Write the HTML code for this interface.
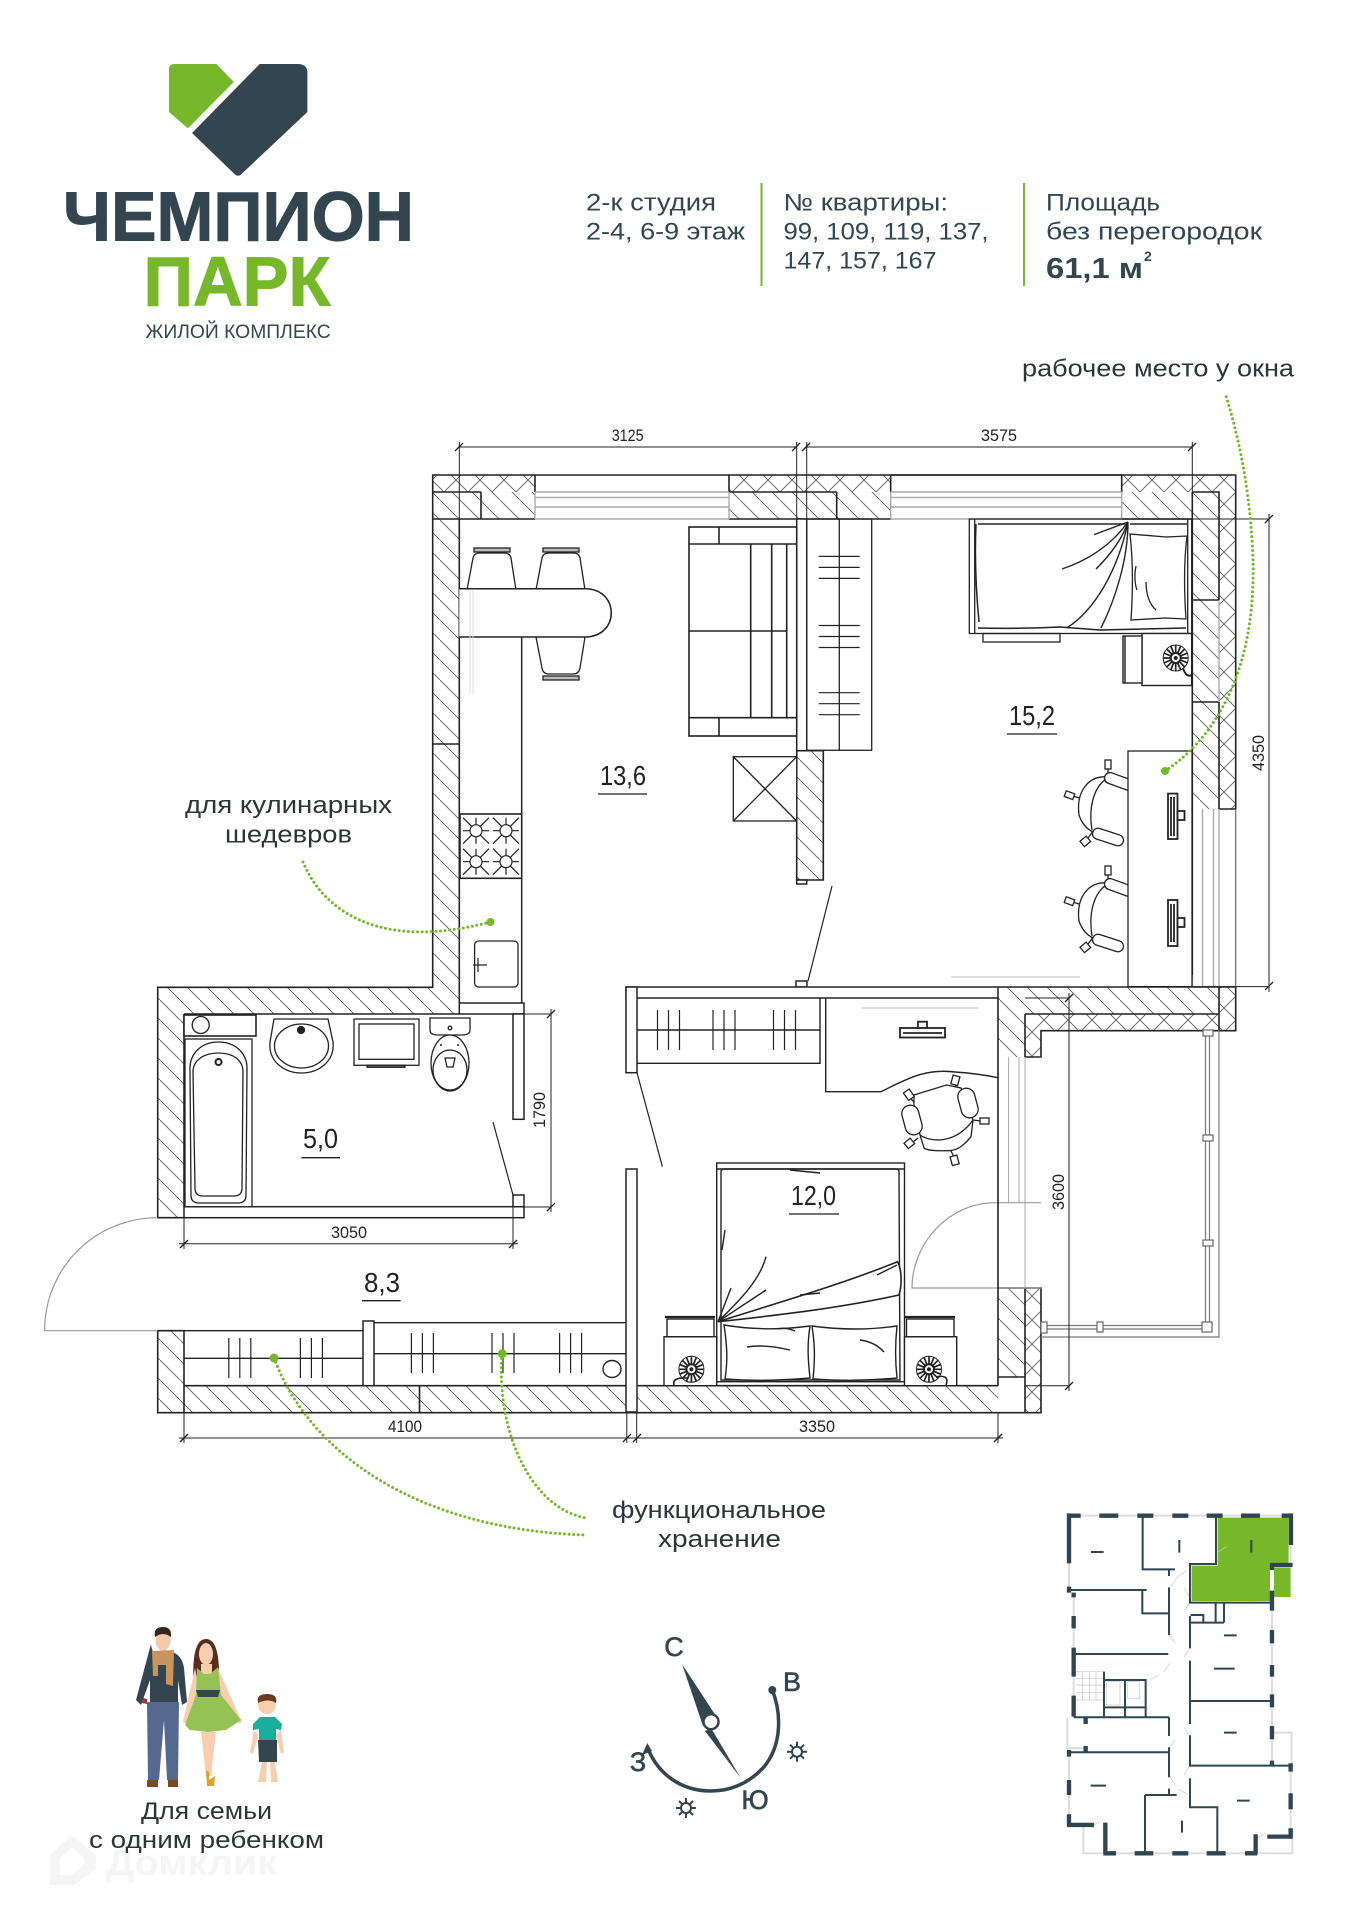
<!DOCTYPE html>
<html lang="ru"><head><meta charset="utf-8"><title>Планировка</title>
<style>html,body{margin:0;padding:0;background:#fff}svg{display:block}text{font-family:"Liberation Sans",sans-serif}</style></head>
<body>
<svg width="1357" height="1920" viewBox="0 0 1357 1920" xmlns="http://www.w3.org/2000/svg">
<defs>
<pattern id="h" width="20" height="20" patternUnits="userSpaceOnUse"><path d="M-2,-2L22,22" stroke="#555" stroke-width=".8" fill="none"/></pattern>
<pattern id="x" width="24" height="24" patternUnits="userSpaceOnUse"><path d="M0,0L24,24M24,0L0,24" stroke="#555" stroke-width=".8" fill="none"/></pattern>
<g id="chair" fill="#fff" stroke="#222" stroke-width="1.3">
<path d="M1108,767V778M1072,796L1083,799M1088,838L1094,830" fill="none"/>
<rect x="1105" y="760" width="6" height="9"/><rect x="1065" y="792" width="9" height="6" transform="rotate(20 1069 795)"/><rect x="1081" y="838" width="8" height="7" transform="rotate(-40 1085 841)"/>
<path d="M1108,777C1088,775 1076,792 1079,815C1082,824 1087,829 1093,832"/>
<path d="M1108,778C1095,785 1088,805 1092,830" fill="none"/>
<rect x="1104" y="775.5" width="34" height="11" rx="5.5" transform="rotate(20 1118 781)"/>
<rect x="1092" y="831.5" width="32" height="11" rx="5.5" transform="rotate(18 1108 837)"/>
</g>
<g id="burn" fill="none" stroke="#222" stroke-width="1.2"><circle r="6"/><path d="M-13,-13L-4,-4M13,-13L4,-4M-13,13L-4,4M13,13L4,4M0,-13V-6M0,13V6M-13,0H-6M13,0H6"/></g>
<g id="lamp" fill="none" stroke="#222"><ellipse rx="12.5" ry="13" stroke-width="1"/><path d="M0,-13V13M-12,0H12M-9,-9L9,9M9,-9L-9,9M-5,-12L5,12M5,-12L-5,12M-12,-5L12,5M12,-5L-12,5" stroke-width="1.7"/><circle r="5" fill="#fff" stroke-width="2"/><circle r="1.5" fill="#222"/></g>
<g id="tick" stroke="#222" stroke-width="1.2"><path d="M0,0V40M11,0V40M22,0V40"/></g>
<g id="tick2" stroke="#222" stroke-width="1.2"><path d="M0,0H41M0,11H41M0,22H41"/></g>
</defs>

<!-- watermark -->
<g fill="#f5f5f5">
<path d="M72,1835L96,1855V1868L75,1885H50V1855Z M60,1858V1875H72L84,1864V1858L72,1848Z" fill-rule="evenodd"/>
<text x="106" y="1875" font-size="36" font-weight="700" textLength="171" lengthAdjust="spacingAndGlyphs">Домклик</text>
</g>

<!-- logo -->
<path d="M174,64H216.5L233.8,82L187.9,128.3L169,112V69Q169,64 174,64Z" fill="#76b82a"/>
<path d="M259.7,64H298Q307.4,64 307.4,73V112L241,174.5Q238,177 235,174.5L192,133Z" fill="#33464f"/>
<text x="63" y="240.7" font-size="70" font-weight="700" fill="#33464f" stroke="#33464f" stroke-width="1" textLength="351" lengthAdjust="spacingAndGlyphs">ЧЕМПИОН</text>
<text x="143.5" y="305.7" font-size="70" font-weight="700" fill="#76b82a" stroke="#76b82a" stroke-width="1" textLength="187" lengthAdjust="spacingAndGlyphs">ПАРК</text>
<text x="145.5" y="338" font-size="19" fill="#33464f" textLength="185.2" lengthAdjust="spacingAndGlyphs">ЖИЛОЙ КОМПЛЕКС</text>

<!-- header info -->
<g font-size="24" fill="#33464f">
<text x="586" y="210.5" textLength="130" lengthAdjust="spacingAndGlyphs">2-к студия</text>
<text x="586" y="239.5" textLength="159" lengthAdjust="spacingAndGlyphs">2-4, 6-9 этаж</text>
<text x="783.5" y="210.5" textLength="164.5" lengthAdjust="spacingAndGlyphs">№ квартиры:</text>
<text x="783.5" y="239.5" textLength="205" lengthAdjust="spacingAndGlyphs">99, 109, 119, 137,</text>
<text x="783.5" y="268.5" textLength="153" lengthAdjust="spacingAndGlyphs">147, 157, 167</text>
<text x="1046" y="210.5" textLength="114" lengthAdjust="spacingAndGlyphs">Площадь</text>
<text x="1046" y="239.5" textLength="216" lengthAdjust="spacingAndGlyphs">без перегородок</text>
<text x="1046" y="278" font-size="29" font-weight="700" textLength="97" lengthAdjust="spacingAndGlyphs">61,1 м</text>
<text x="1144" y="261" font-size="14" font-weight="700">2</text>
</g>
<path d="M761.5,183V286M1024,183V286" stroke="#76b82a" stroke-width="2"/>

<!-- annotations -->
<g font-size="24" fill="#2f3338">
<text x="1022" y="376.5" textLength="272" lengthAdjust="spacingAndGlyphs">рабочее место у окна</text>
<text x="185" y="813" textLength="207" lengthAdjust="spacingAndGlyphs">для кулинарных</text>
<text x="225" y="842.5" textLength="127" lengthAdjust="spacingAndGlyphs">шедевров</text>
<text x="612" y="1518" textLength="214" lengthAdjust="spacingAndGlyphs">функциональное</text>
<text x="658" y="1547" textLength="123" lengthAdjust="spacingAndGlyphs">хранение</text>
<text x="141" y="1819" textLength="131" lengthAdjust="spacingAndGlyphs">Для семьи</text>
<text x="89" y="1848" textLength="235" lengthAdjust="spacingAndGlyphs">с одним ребенком</text>
</g>

<!-- walls: hatch fills -->
<rect x="432.7" y="475" width="102.3" height="17" fill="url(#x)"/>
<rect x="729" y="475" width="161.7" height="17" fill="url(#x)"/>
<rect x="1121.7" y="475" width="114" height="17" fill="url(#x)"/>
<rect x="432.7" y="492" width="102.3" height="27" fill="url(#h)"/>
<rect x="729" y="492" width="161.7" height="27" fill="url(#h)"/>
<rect x="1121.7" y="492" width="70.6" height="27" fill="url(#h)"/>
<rect x="1219" y="492" width="16.7" height="317" fill="url(#x)"/>
<rect x="1192.3" y="492" width="26.7" height="317" fill="url(#h)"/>
<path d="M157.7,987.3H432.7V519H459.3V1014H184V1217.7H157.7Z" fill="url(#h)"/>
<rect x="796.7" y="750.7" width="26.6" height="129.3" fill="url(#h)"/>
<path d="M998,987H1219V1014H1025V1057H998Z" fill="url(#h)"/>
<path d="M1025,1014H1219V987H1235.7V1030.7H1041V1057H1025Z" fill="url(#x)"/>
<rect x="998" y="1288" width="27" height="124.7" fill="url(#h)"/>
<rect x="1025" y="1288" width="16" height="124.7" fill="url(#x)"/>
<path d="M157.7,1330.7H184V1385.7H998V1412.7H157.7Z" fill="url(#h)"/>
<rect x="998" y="1377" width="27" height="35.7" fill="#fff"/>

<!-- wall outlines -->
<g stroke="#222" stroke-width="1.6" fill="none">
<path d="M535,475H432.7V519H535M535,475V492M729,475H1235.7V809M729,475V492M890.7,475V492M1121.7,475V492M729,519H890.7M1121.7,519H1192.3"/>
<path d="M481,492V519M836.7,492V519M432.7,492H481M729,492H836.7M1192.3,492H1219V600M1219,702V809M1192.3,600H1219M1192.3,702H1219M1192.3,492V980M1219,809H1235.7"/>
<path d="M459.3,519V1003M432.7,519V987.3H157.7V1217.7H184M432.7,744H459.3M184,1014V1206.7M184,1014H459.3"/>
<path d="M796.7,750.7H823.3V880H796.7V750.7"/>
<path d="M998,987H1235.7V1030.7H1041V1057H1025M1025,1014H1219M1219,987V1030.7M1025,1014V1057"/>
<path d="M998,1288H1041V1412.7H157.7V1330.7H184V1412.7M184,1385.7H998M419.5,1385.7V1412.7M998,1377H1025V1412.7M1025,1288V1377"/>
</g>
<!-- windows -->
<g stroke="#aaa" stroke-width="1.4" fill="none">
<path d="M535,492H729M535,497.5H729M535,507H729M535,519H729M535,492V519M729,492V519"/>
<path d="M890.7,492H1121.7M890.7,497.5H1121.7M890.7,507H1121.7M890.7,519H1121.7M890.7,492V519M1121.7,492V519"/>
<path d="M1219,600V702M1202.5,809V987M1213.5,809V987M1219,809V987"/>
<path d="M1008.6,1057V1203M1019,1057V1203M1025,1057V1288M998,1057V1288" stroke-width="1"/>
</g>
<path d="M535,475H729M890.7,475H1121.7" stroke="#222" stroke-width="1.5"/>
<path d="M1235.7,809V987" stroke="#666" stroke-width="1.2"/>
<path d="M1192.3,975V987" stroke="#aaa" stroke-width="1.5"/>
<!-- balcony -->
<g fill="none" stroke="#777" stroke-width="1.2">
<path d="M1219,1030V1337H1041"/>
<path d="M1205.5,1030V1327M1209.5,1030V1327M1044,1325.5H1207M1044,1329H1207"/>
</g>
<g fill="#fff" stroke="#666" stroke-width="1.2">
<rect x="1203" y="1030" width="10" height="6"/><rect x="1203" y="1135" width="10" height="6"/><rect x="1203" y="1240" width="10" height="6"/><rect x="1202" y="1322" width="10" height="10"/><rect x="1041" y="1322" width="6" height="11"/><rect x="1097" y="1322" width="6" height="10"/>
</g>
<path d="M1041,1202.7H995.5C948,1202.7 912,1244 912,1288H1041" fill="none" stroke="#999" stroke-width="1.2"/>
<!-- partitions -->
<g fill="#fff" stroke="#222" stroke-width="1.5">
<rect x="796.7" y="519" width="10" height="231.7"/>
<rect x="796.7" y="880" width="10" height="4"/>
<rect x="796" y="981" width="11" height="6"/>
<rect x="626" y="987" width="372" height="11"/>
<rect x="626" y="987" width="11" height="85.7"/>
<rect x="626" y="1169" width="11" height="243"/>
<rect x="459.3" y="1003" width="64.7" height="11"/>
<rect x="513" y="1014" width="11" height="105.3"/>
<rect x="513" y="1195" width="11" height="12"/>
<rect x="184" y="1206.7" width="340" height="11"/>
<rect x="363" y="1321" width="11" height="64.7"/>
</g>
<path d="M998,998V1385.7" stroke="#222" stroke-width="1.6"/>
<path d="M832,886L808,981M637,1072.7L662.4,1166.7M493,1122L513,1195" stroke="#222" stroke-width="1.2"/>
<path d="M157.7,1217.7C95,1217.7 44.6,1268 44.6,1330.7H157.7" fill="none" stroke="#999" stroke-width="1.2"/>

<!-- kitchen -->
<g fill="#fff" stroke="#222" stroke-width="1.3">
<rect x="474" y="548" width="36" height="4" fill="#bbb"/><rect x="543" y="548" width="36" height="4" fill="#bbb"/>
<rect x="543" y="676" width="36" height="4" fill="#bbb"/>
<path d="M467,590L473,558Q474,553 480,553H504Q510,553 511,558L516,590"/>
<path d="M536,590L542,558Q543,553 549,553H573Q579,553 580,558L585,590"/>
<path d="M536,637L542,668Q543,674 549,674H573Q579,674 580,668L585,637"/>
<path d="M459.3,588.7H585C620,588.7 620,637 585,637H459.3" stroke-width="1.5"/>
</g>
<path d="M521.7,637V1003" stroke="#222" stroke-width="1.5"/>
<path d="M470,590V694M473,590V694" stroke="#ddd" stroke-width="1"/>
<rect x="460" y="814" width="61.7" height="64.3" fill="#fff" stroke="#222" stroke-width="1.6"/>
<use href="#burn" x="476" y="830.7"/><use href="#burn" x="506" y="830.7"/><use href="#burn" x="476" y="861.7"/><use href="#burn" x="506" y="861.7"/>
<rect x="474.6" y="941" width="43.4" height="46" rx="4" fill="#fff" stroke="#222" stroke-width="1.3"/>
<path d="M478,958V972M473,965H487" stroke="#222" stroke-width="1.2"/>

<!-- sofa -->
<g fill="#fff" stroke="#222" stroke-width="1.6">
<rect x="689" y="527" width="107.7" height="209"/>
<path d="M689,544H796.7M689,717.7H796.7M719,527V544M719,717.7V736M750.7,544V717.7M771.7,544V717.7M786.7,544V717.7M689,631H786.7" fill="none"/>
</g>
<rect x="733.3" y="756.7" width="63.4" height="64.3" fill="#fff" stroke="#222" stroke-width="1.3"/>
<path d="M733.3,756.7L796.7,821M796.7,756.7L733.3,821" stroke="#222" stroke-width="1.3"/>

<!-- wardrobe -->
<g fill="none" stroke="#222" stroke-width="1.3">
<rect x="806.7" y="519" width="65" height="231.3"/><path d="M839.3,519V750.3"/>
</g>
<use href="#tick2" x="818.7" y="556.4"/><use href="#tick2" x="818.7" y="625.5"/><use href="#tick2" x="818.7" y="692.7"/>

<!-- bed 15,2 -->
<g fill="none" stroke="#222" stroke-width="1.3">
<rect x="969.3" y="519" width="222.4" height="114.5"/>
<path d="M974.7,519V633.5M1187.7,519V633.5"/>
<rect x="983" y="633.5" width="77" height="8.5"/>
<path d="M978,524H1125M1130,524H1187M978,628Q1020,629 1060,627L1100,630L1186,628M976,524Q974,570 979,622" stroke-width="1.5"/>
<path d="M1128,522L1094,534.6M1128,522C1115,540 1095,558 1062,569M1128,522C1122,540 1110,555 1096,569M1128,522C1118,570 1095,610 1066.7,628M1128,522C1128,560 1115,600 1101,628" stroke-width="1.4"/>
<path d="M1130,534L1166,537L1187,536C1184,560 1184,590 1186,619L1165,618L1131,620C1133,590 1133,560 1130,534Z M1136,566C1134,575 1135,585 1137,590M1146,582C1146,595 1150,605 1156,610" stroke-width="1.3"/>
</g>
<g fill="#fff" stroke="#222" stroke-width="1.4">
<rect x="1142" y="633.5" width="49.7" height="52"/>
<rect x="1123" y="636" width="19" height="47"/><path d="M1125,636V683" />
</g>
<use href="#lamp" transform="translate(1175.7,658)"/>
<path d="M1183,668Q1186,678 1192,675" fill="none" stroke="#222" stroke-width="2"/>

<!-- chairs + desk 15,2 -->
<use href="#chair"/><use href="#chair" y="106"/>
<rect x="1128" y="751" width="64" height="235.6" fill="#fff" stroke="#222" stroke-width="1.3"/>
<g fill="#fff" stroke="#222" stroke-width="1.8">
<rect x="1168" y="793.6" width="9.5" height="45.4"/><path d="M1171,797V836M1174,797V836" fill="none"/>
<rect x="1177.5" y="811" width="7" height="9"/>
<rect x="1168" y="900" width="9.5" height="46"/><path d="M1171,904V942M1174,904V942" fill="none"/>
<rect x="1177.5" y="918" width="7" height="9"/>
</g>
<path d="M951,977H1080" stroke="#ddd" stroke-width="2"/>

<!-- bathroom -->
<g fill="#fff" stroke="#222" stroke-width="1.3">
<rect x="184" y="1015" width="72" height="21" stroke-width="1.6"/><circle cx="200.7" cy="1025" r="8.5"/>
<rect x="185" y="1039" width="67" height="167.7"/>
<path d="M190,1068C190,1055 200,1042 218.5,1042C237,1042 247,1055 247,1068L246,1195Q246,1203 238,1203H199Q191,1203 191,1195Z"/>
<path d="M193,1072C193,1060 204,1053 218.5,1053C233,1053 243,1060 243,1072L242,1188Q242,1196 234,1196H203Q195,1196 195,1188Z"/>
<circle cx="218.5" cy="1062" r="3" stroke-width="2"/>
<path d="M274,1019H328L333,1042C335,1062 318,1073 301.5,1073C285,1073 268,1062 270,1042Z"/>
<ellipse cx="301.5" cy="1046" rx="27" ry="22"/>
<circle cx="301" cy="1030" r="3.5" fill="#222"/>
<rect x="354" y="1019" width="65" height="46.3"/><rect x="359" y="1024" width="55" height="35.3"/>
<rect x="367" y="1065.3" width="38" height="2" fill="#777"/>
<path d="M430,1018H470V1030Q470,1035 462,1035H438Q430,1035 430,1030Z"/>
<circle cx="450" cy="1028" r="1.8"/>
<ellipse cx="450" cy="1063" rx="19" ry="28"/><ellipse cx="450" cy="1070" rx="17" ry="20"/>
<path d="M445,1058H455L453,1067H447Z"/>
</g>
<circle cx="441" cy="1045" r="1" fill="#222"/><circle cx="458" cy="1045" r="1" fill="#222"/>

<!-- corridor wardrobes -->
<g fill="none" stroke="#222" stroke-width="1.4">
<path d="M184,1330.7H363M184,1358.3H363M374,1322.7H626M374,1353.7H626"/>
<ellipse cx="612" cy="1369" rx="9" ry="8.5"/>
</g>
<use href="#tick" x="228.8" y="1338"/><use href="#tick" x="300.4" y="1338"/>
<use href="#tick" x="411.4" y="1333"/><use href="#tick" x="492" y="1333"/><use href="#tick" x="559.6" y="1333"/>

<!-- bedroom 12,0 storage & desk -->
<g fill="none" stroke="#222" stroke-width="1.4">
<path d="M637,1063.3H820V998M637,1030H820"/>
<path d="M825.7,998V1091.7H881C905,1080 925,1068 955,1072C970,1073 985,1075 998,1077.7"/>
</g>
<use href="#tick" x="657.5" y="1010"/><use href="#tick" x="713" y="1010"/><use href="#tick" x="773.5" y="1010"/>
<g fill="#fff" stroke="#222" stroke-width="1.8">
<rect x="918" y="1021.7" width="9" height="6.5"/>
<rect x="900" y="1028" width="45" height="9.5"/>
<path d="M903,1033H942" fill="none"/>
</g>
<path d="M862,1008H978" stroke="#ddd" stroke-width="2"/>
<g fill="#fff" stroke="#222" stroke-width="1.3">
<path d="M914,1105L914,1095L946.5,1085L961,1088L973,1120L971,1136.7C962,1148 955,1151 946.5,1150.7C935,1151 926,1150 924,1148L920,1135Z"/>
<path d="M920,1135C930,1142 955,1145 973,1120" fill="none"/>
<rect x="903.5" y="1105" width="17" height="30" rx="8.5" transform="rotate(-15 912 1120)"/>
<rect x="959.5" y="1088" width="17" height="30" rx="8.5" transform="rotate(-15 968 1103)"/>
<path d="M910,1098L914,1102M957,1084L955,1087M973,1120L981,1121M951,1151L954,1157M918,1138L912,1143" fill="none"/>
<rect x="905" y="1090" width="7" height="9" transform="rotate(-35 909 1094)"/>
<rect x="952" y="1076" width="7" height="9" transform="rotate(15 956 1080)"/>
<rect x="980" y="1118" width="9" height="6"/>
<rect x="951" y="1156" width="7" height="9" transform="rotate(-15 954 1160)"/>
<rect x="905" y="1140" width="8" height="7" transform="rotate(-40 909 1143)"/>
</g>

<!-- bed 12,0 -->
<g fill="none" stroke="#222" stroke-width="1.4">
<rect x="716.7" y="1163" width="187.8" height="218.7" />
<path d="M716.7,1169H904.5"/>
<path d="M721,1172Q721,1169 724,1169H896Q899,1169 899,1172L900,1380H721Z"/>
<path d="M718,1321.7C780,1302 840,1285 897.5,1261.7C902,1270 902,1285 899,1295C840,1308 780,1315 718,1321.7Z" fill="#fff" stroke-width="1.6"/>
<path d="M718,1321.7L731,1288M718,1321.7L766,1290M718,1321.7C740,1300 760,1280 766,1256.7M790,1170L820,1173M722,1250L725,1230M800,1295L820,1293M877,1275L897,1265"/>
<path d="M724,1325Q765,1332 810,1326C807,1345 808,1360 810,1378Q765,1382 725,1379C728,1360 727,1345 724,1325ZM812,1326Q855,1332 897,1326C895,1345 895,1360 897,1378Q855,1382 813,1379C815,1360 815,1345 812,1326Z" fill="#fff"/>
<path d="M747,1347Q765,1344 790,1350M860,1340Q875,1342 884,1352M778,1329Q785,1327 795,1331"/>
</g>
<g fill="#fff" stroke="#222" stroke-width="1.4">
<rect x="664" y="1336.7" width="52.7" height="49"/><rect x="904.5" y="1336.7" width="52.2" height="49"/>
<rect x="667" y="1319" width="47" height="17.7"/><rect x="906.5" y="1319" width="47.5" height="17.7"/>
<path d="M665,1317H715M905,1317H955" stroke-width="2.2"/>
</g>
<use href="#lamp" transform="translate(691.4,1369.3)"/><use href="#lamp" transform="translate(929,1369.3)"/>
<path d="M674,1385Q672,1377 687,1378M936,1377Q950,1374 946,1385" fill="none" stroke="#222" stroke-width="1.6"/>

<!-- dims -->
<g stroke="#222" stroke-width="1" fill="none">
<path d="M459.3,447H796.7M806.7,447H1192.3M459.3,442V519M796.7,442V519M806.7,442V519M1192.3,442V519"/>
<path d="M1192,519H1269M1192,986.6H1269M1269,514V992"/>
<path d="M524,1014H551M513,1207H551M551,1009V1212"/>
<path d="M184,1217V1249M513,1207V1249M179,1243.7H518"/>
<path d="M184,1412V1443M626.8,1412V1443M636.7,1412V1443M998,1412V1443M179,1438H632M632,1438H1003"/>
<path d="M1025,998H1069M1025,1385.7H1069M1069,993V1391"/>
<path d="M455,451L463,443M792,451L800,443M802,451L810,443M1188,451L1196,443M1265,523L1273,515M1265,990L1273,982M547,1018L555,1010M547,1211L555,1203M180,1248L188,1240M509,1248L517,1240M180,1442L188,1434M623,1442L631,1434M633,1442L641,1434M994,1442L1002,1434M1065,1002L1073,994M1065,1390L1073,1382" stroke-width="1.3"/>
</g>
<g font-size="17" fill="#222" text-anchor="middle">
<text x="627.7" y="441" textLength="32" lengthAdjust="spacingAndGlyphs">3125</text>
<text x="999" y="441" textLength="36" lengthAdjust="spacingAndGlyphs">3575</text>
<text x="349" y="1238" textLength="36" lengthAdjust="spacingAndGlyphs">3050</text>
<text x="405" y="1432" textLength="34" lengthAdjust="spacingAndGlyphs">4100</text>
<text x="817" y="1432" textLength="36" lengthAdjust="spacingAndGlyphs">3350</text>
<text transform="translate(1264,753) rotate(-90)" textLength="36" lengthAdjust="spacingAndGlyphs">4350</text>
<text transform="translate(545,1110) rotate(-90)" textLength="36" lengthAdjust="spacingAndGlyphs">1790</text>
<text transform="translate(1064,1192) rotate(-90)" textLength="36" lengthAdjust="spacingAndGlyphs">3600</text>
</g>
<g font-size="28" fill="#222">
<text x="600" y="785" textLength="46" lengthAdjust="spacingAndGlyphs">13,6</text>
<text x="1009" y="725" textLength="46" lengthAdjust="spacingAndGlyphs">15,2</text>
<text x="791" y="1205" textLength="45" lengthAdjust="spacingAndGlyphs">12,0</text>
<text x="303" y="1148" textLength="35" lengthAdjust="spacingAndGlyphs">5,0</text>
<text x="364" y="1292" textLength="36" lengthAdjust="spacingAndGlyphs">8,3</text>
</g>
<path d="M598,794H647M1007,734H1057M789,1214H839M301.5,1157.7H340M362,1300.7H400.7" stroke="#222" stroke-width="1.3"/>

<!-- leaders -->
<g fill="none" stroke="#76b82a" stroke-width="3" stroke-linecap="round" stroke-dasharray="0 4.6">
<path d="M1165,771C1205,745 1262,680 1252,540C1248,480 1238,435 1226,396"/>
<path d="M303,862C325,915 385,950 490,922"/>
<path d="M274,1358C310,1455 420,1530 586,1535"/>
<path d="M502,1354C496,1430 530,1508 586,1518"/>
</g>
<g fill="#76b82a"><circle cx="1165" cy="771" r="4"/><circle cx="490.5" cy="922" r="4"/><circle cx="274" cy="1358" r="4.5"/><circle cx="502.3" cy="1353.7" r="4.5"/></g>

<!-- people -->
<g>
<path d="M151,1644L144,1670L136,1700L141,1705L150,1680V1704H178V1680L182,1705L187,1702L184,1668Q182,1655 172,1652L155,1652Q152,1653 151,1644Z" fill="#33464f"/>
<ellipse cx="163" cy="1640" rx="7.5" ry="11" fill="#f6c9a7"/>
<path d="M155,1637Q153,1627 163,1627Q172,1627 171,1637Q163,1631 155,1637Z" fill="#33281f"/>
<path d="M152,1651L174,1650L173,1686L166,1684V1665H158V1676H153Z" fill="#c9955f"/>
<path d="M147,1702H179L178,1780H167L164,1720L159,1780H148Z" fill="#55688f"/>
<path d="M147,1780H158V1787H147ZM168,1780H178V1787H168Z" fill="#7a4a1e"/>
<path d="M143,1698l4,1v5l-5,-1z" fill="#a33"/>
<path d="M194,1695C192,1665 193,1639 206,1639C219,1639 220,1665 219,1695Z" fill="#5a2d1e"/>
<ellipse cx="206" cy="1654" rx="7" ry="11" fill="#f8cfae"/>
<path d="M201,1664H212V1680H201Z" fill="#f8cfae"/>
<path d="M195,1668L183,1722L187,1724L199,1690ZM218,1668L242,1722L239,1724L217,1690Z" fill="#f8cfae"/>
<path d="M197,1668L204,1674H210L218,1667L221,1695L241,1720L226,1730L208,1732L190,1730L185,1725L196,1695Z" fill="#95c254"/>
<path d="M196,1690H220L218,1697H198Z" fill="#33464f"/>
<path d="M201,1732H216L211,1776H206Z" fill="#f8cfae"/>
<path d="M206,1770L209,1772V1780L215,1776L214,1786H207Z" fill="#e0a020"/>
<circle cx="267" cy="1705" r="9" fill="#f8cfae"/>
<path d="M258,1703Q256,1694 267,1694Q278,1694 276,1703Q268,1698 258,1703Z" fill="#6b3a20"/>
<path d="M253,1724L260,1717H275L282,1724L281,1730L276,1729V1740H259V1729L253,1730Z" fill="#1aaf9c"/>
<path d="M258,1740H277L277,1762H259Z" fill="#33464f"/>
<path d="M254,1730L250,1752L253,1754L258,1735ZM281,1730L284,1752L281,1754L276,1735Z" fill="#f8cfae"/>
<path d="M262,1762H267L266,1782H258ZM270,1762H275L278,1782H271Z" fill="#f8cfae"/>
</g>

<!-- compass -->
<g fill="#33464f">
<path d="M682,1664L716,1716L703,1726Z"/>
<path d="M705,1731L711,1728L740.7,1778Z"/>
<circle cx="711" cy="1721.7" r="7.5" fill="#fff" stroke="#33464f" stroke-width="2.5"/>
<circle cx="772.3" cy="1690" r="4"/>
<path d="M772.3,1690C781,1712 783,1745 763,1768C747,1785 728,1791 711,1791C682,1791 658,1775 647.3,1747" fill="none" stroke="#33464f" stroke-width="3.5"/>
<path d="M647.3,1743L642,1755L652,1751Z"/>
<g font-size="27" text-anchor="middle" stroke="#33464f" stroke-width=".6">
<text x="674" y="1656">С</text><text x="792" y="1691">В</text><text x="638" y="1771">З</text><text x="755" y="1809">Ю</text>
</g>
</g>
<g stroke="#33464f" stroke-width="2" fill="none">
<g transform="translate(797,1751.7)"><circle r="5"/><path d="M0,-10V-5M0,10V5M-10,0H-5M10,0H5M-7,-7L-4,-4M7,-7L4,-4M-7,7L-4,4M7,7L4,4"/></g>
<g transform="translate(686,1808)"><circle r="5"/><path d="M0,-10V-5M0,10V5M-10,0H-5M10,0H5M-7,-7L-4,-4M7,-7L4,-4M-7,7L-4,4M7,7L4,4"/></g>
</g>

<!-- key plan -->
<g transform="translate(1050,1500) scale(.3333)">
<path d="M503,53H716V190H660V303H425V197H503Z" fill="#76b82a"/>
<rect x="672" y="203" width="50" height="88" fill="#76b82a"/>
<g fill="none" stroke="#ddd" stroke-width="6">
<path d="M52,47H728M100,980V1060H727V985M672,698H725V790M52,652V745H105"/>
<path d="M57,190V260M71,292V348M71,385V443M71,530V587M666,332V782M722,135V190M722,815V985M57,770V840M57,885V943"/>
</g>
<g stroke="#c6c6c6" stroke-width="2" fill="none">
<path d="M78,515H160M78,535H160M78,555H160M78,578H160M78,600H160M98,515V600M118,515V600M138,515V600"/>
<rect x="170" y="545" width="40" height="70"/><rect x="233" y="545" width="36" height="50"/>
<path d="M412,210L385,228L362,260M402,262L418,290M418,308L402,336M358,405L376,430M416,450L402,472M360,490L342,515M325,525L302,540M402,682L418,705M376,718L360,742M416,800L402,826M360,828L376,856M412,882L385,868M530,140L505,155M150,965L132,975M645,1000L622,1015"/>
</g>
<g stroke="#2f4550" fill="none" stroke-width="13">
<path d="M52,47H92M148,47H205M262,47H310M367,47H415M470,47H518M573,47H630M695,47H728"/>
<path d="M57,40V190M57,260V278M723,40V135M660,195H728M666,190V210M666,272V332"/>
<path d="M71,278V292M71,348V385M71,443V530M71,587V650M666,390V430M666,495V530M666,583V622M666,678V718M666,782V797"/>
<path d="M107,652V672M107,738V758M57,750V770M57,840V885M57,943V980M52,975H132M166,968V1060"/>
<path d="M160,1060H198M254,1060H310M367,1060H415M470,1060H527M585,1060H622M617,1003V1060M652,1010H728M722,985V1015M722,880V928M722,790V815"/>
</g>
<g stroke="#2f4550" fill="none" stroke-width="6">
<path d="M278,50V208H375M498,50V192H420V308H665M357,208V228M357,262V405"/>
<path d="M57,270H290M277,270V340H357M71,462H355M71,652H357M162,515V650M162,540H290M225,540V650M287,540V650M162,622H285M357,652V708M357,742V832M357,866V885M52,757H357M285,885H380M285,885V1060"/>
<path d="M418,797H728M420,835V922H502V1060M420,706V800M420,482V672M420,348V445M420,603H665M420,368H522M497,310V368M522,310V368M422,345H460V368"/>
<path d="M123,156H161M388,120V158M604,120V158M522,406H560M492,506H554M522,698H560M122,857H168M561,902H599M396,962V998" />
</g>
</g>
</svg>
</body></html>
